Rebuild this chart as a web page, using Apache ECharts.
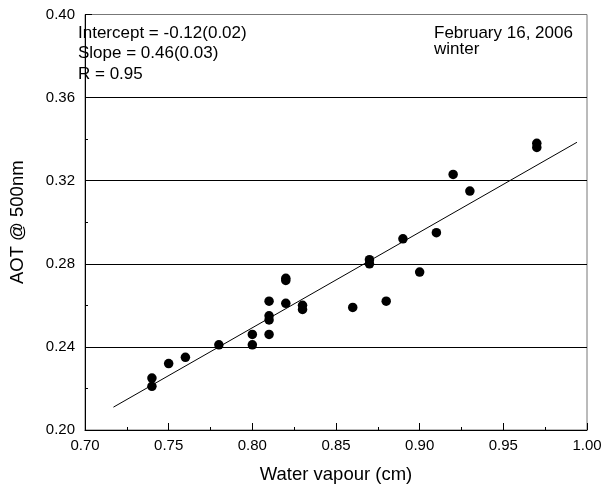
<!DOCTYPE html>
<html>
<head>
<meta charset="utf-8">
<script src="https://cdn.jsdelivr.net/npm/echarts@6/dist/echarts.min.js"></script>
<style>
html,body{margin:0;padding:0;background:#fff;}
#chart{width:605px;height:489px;}
</style>
</head>
<body>
<div id="chart"></div>
<script>
var waterVapour = [0.74, 0.74, 0.75, 0.76, 0.78, 0.80, 0.80, 0.81, 0.81, 0.81, 0.81, 0.82, 0.82, 0.82, 0.83, 0.83, 0.86, 0.87, 0.87, 0.88, 0.89, 0.90, 0.91, 0.92, 0.93, 0.97, 0.97];
var aot500 =      [0.225, 0.221, 0.232, 0.235, 0.241, 0.246, 0.241, 0.262, 0.255, 0.253, 0.246, 0.273, 0.272, 0.261, 0.260, 0.258, 0.259, 0.282, 0.280, 0.262, 0.292, 0.276, 0.295, 0.323, 0.315, 0.338, 0.336];
var fitX = [0.717, 0.994];
var fitY = [0.211, 0.3385];
var xTicks = ['0.70','0.75','0.80','0.85','0.90','0.95','1.00'];
var yTicks = ['0.20','0.24','0.28','0.32','0.36','0.40'];
var statsLines = ['Intercept = -0.12(0.02)', 'Slope = 0.46(0.03)', 'R = 0.95'];
var dateLines = ['February 16, 2006', 'winter'];

var FONT = '"Liberation Sans", Arial, sans-serif';
var chart = echarts.init(document.getElementById('chart'), null, {renderer: 'canvas'});

var graphics = [];
statsLines.forEach(function (t, i) {
  graphics.push({type: 'text', left: 78, top: 24.5 + i * 20.5, style: {text: t, font: '17px ' + FONT, fill: '#000'}});
});
dateLines.forEach(function (t, i) {
  graphics.push({type: 'text', left: 434, top: 24.5 + i * 16, style: {text: t, font: '17px ' + FONT, fill: '#000'}});
});

chart.setOption({
  animation: false,
  backgroundColor: '#fff',
  grid: {left: 74.5, right: 18, top: 14.5, bottom: 57, show: true, borderColor: '#777', borderWidth: 1},
  xAxis: {
    type: 'value', min: 0.7, max: 1.0, interval: 0.05,
    name: 'Water vapour (cm)', nameLocation: 'middle', nameGap: 35,
    nameTextStyle: {fontFamily: FONT, fontSize: 18.5, color: '#000'},
    axisLine: {show: true, onZero: false, lineStyle: {color: '#000', width: 1}},
    axisTick: {show: true, inside: true, length: 7, lineStyle: {color: '#000'}},
    minorTick: {show: true, splitNumber: 2, length: 3, lineStyle: {color: '#000'}},
    axisLabel: {fontFamily: FONT, fontSize: 15, color: '#000', margin: 8,
      formatter: function (v) { return xTicks[Math.round((v - 0.7) / 0.05)]; }},
    splitLine: {show: false}
  },
  yAxis: {
    type: 'value', min: 0.2, max: 0.4, interval: 0.04,
    name: 'AOT @ 500nm', nameLocation: 'middle', nameGap: 58,
    nameTextStyle: {fontFamily: FONT, fontSize: 18.5, color: '#000'},
    axisLine: {show: true, onZero: false, lineStyle: {color: '#000', width: 1}},
    axisTick: {show: true, inside: true, length: 7, lineStyle: {color: '#000'}},
    minorTick: {show: true, splitNumber: 2, length: 3, lineStyle: {color: '#000'}},
    axisLabel: {fontFamily: FONT, fontSize: 15, color: '#000', margin: 10,
      formatter: function (v) { return yTicks[Math.round((v - 0.2) / 0.04)]; }},
    splitLine: {show: true, showMinLine: false, showMaxLine: false, lineStyle: {color: '#000', width: 1}}
  },
  series: [
    {
      type: 'line', data: fitX.map(function (x, i) { return [x, fitY[i]]; }),
      showSymbol: false, symbol: 'none', lineStyle: {color: '#000', width: 1}, z: 3
    },
    {
      type: 'scatter', data: waterVapour.map(function (x, i) { return [x, aot500[i]]; }),
      symbol: 'circle', symbolSize: 9.5, itemStyle: {color: '#000', opacity: 1}, z: 4
    }
  ],
  graphic: graphics
});
</script>
</body>
</html>
